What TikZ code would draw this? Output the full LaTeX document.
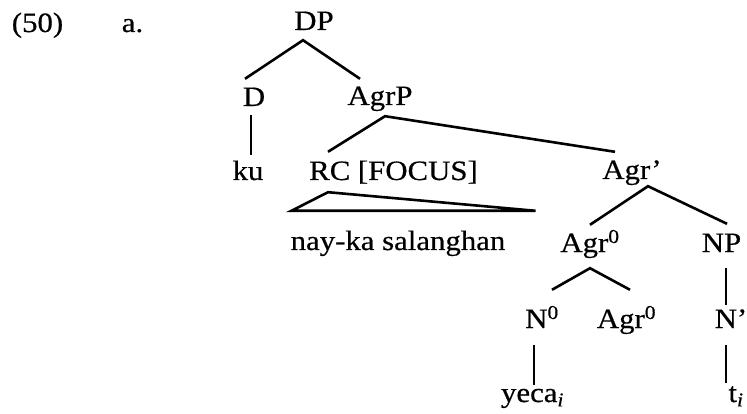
\documentclass[tikz,border=0pt]{standalone}
\usepackage{fontspec}
\setmainfont[FakeStretch=1.1, FakeBold=0.5]{Liberation Serif}
\tikzset{
  lbl/.style   ={anchor=base, inner sep=0pt, text height=17pt, text depth=6pt,
                 font=\fontsize{28pt}{32pt}\selectfont},
  branch/.style={line width=2.6pt, line join=miter},
}
\newcommand{\zero}{\textsuperscript{0}}
\newcommand{\idx}{\textsubscript{\itshape i}}

\begin{document}
\begin{tikzpicture}[x=1pt, y=-1pt]
  \useasboundingbox (0,0) rectangle (747,414);
  % labels
  \node[lbl] (ex)     at (37.5,32)  {(50)};
  \node[lbl] (sub)    at (132.5,32) {a.};
  \node[lbl] (dp)     at (314,30)   {DP};
  \node[lbl] (d)      at (254,106)  {D};
  \node[lbl] (agrp)   at (380,105)  {AgrP};
  \node[lbl] (ku)     at (248,180)  {ku};
  \node[lbl] (rc)     at (393.5,180) {RC [FOCUS]};
  \node[lbl] (agrbar) at (632,179)  {Agr'};
  \node[lbl] (rel)    at (398,250)  {nay-ka salanghan};
  \node[lbl] (agr)    at (590,252)  {Agr\zero};
  \node[lbl] (np)     at (721.5,252) {NP};
  \node[lbl] (n)      at (542,328)  {N\zero};
  \node[lbl] (agrx)   at (626.5,328) {Agr\zero};
  \node[lbl] (nbar)   at (731,328)  {N'};
  \node[lbl] (yeca)   at (532.5,402) {yeca\idx};
  \node[lbl] (trace)  at (736,402)  {t\idx};
  % branches
  \draw[branch] ([shift={(-9,-10)}]d.north) -- ([shift={(-11,4)}]dp.south) -- ([shift={(-20,-9)}]agrp.north);
  \draw[branch] ([shift={(-3,3)}]d.south) -- ([shift={(3,-8)}]ku.north);
  \draw[branch] ([shift={(-65.5,-11)}]rc.north) -- ([shift={(5,5)}]agrp.south) -- ([shift={(-17,-10)}]agrbar.north);
  \draw[branch] ([shift={(-65.5,6)}]rc.south) -- ([shift={(1,-22)}]rel.north west) -- ([shift={(30,-22)}]rel.north east) -- cycle;
  \draw[branch] ([shift={(0,-10)}]agr.north) -- ([shift={(16,1)}]agrbar.south) -- ([shift={(5.5,-11)}]np.north);
  \draw[branch] ([shift={(10,-21)}]n.north) -- ([shift={(0,10)}]agr.south) -- ([shift={(3.5,-21)}]agrx.north);
  \draw[branch] ([shift={(4.5,10)}]np.south) -- ([shift={(-5,-6)}]nbar.north);
  \draw[branch] ([shift={(-5,11)}]nbar.south) -- ([shift={(-10,-2)}]trace.north);
  \draw[branch] ([shift={(-8,11)}]n.south) -- ([shift={(1.5,0)}]yeca.north);
\end{tikzpicture}
\end{document}
